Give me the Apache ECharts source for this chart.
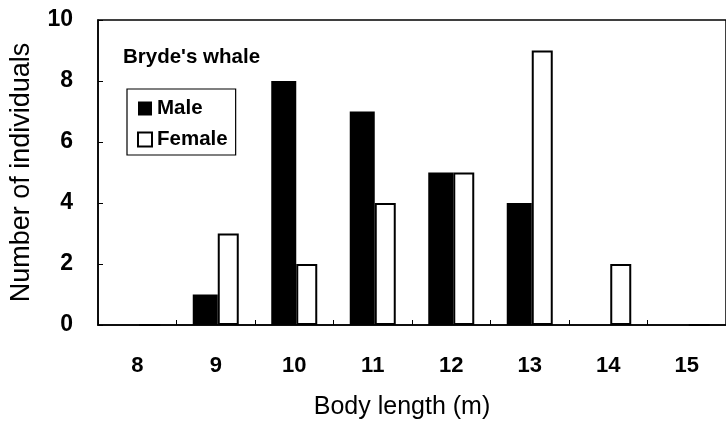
<!DOCTYPE html>
<html><head><meta charset="utf-8">
<script src="https://cdn.jsdelivr.net/npm/echarts@6/dist/echarts.min.js"></script>
<style>html,body{margin:0;padding:0;background:#fff}#c{width:726px;height:427px}</style>
</head><body><div id="c"></div>
<script>
const categories = ['8','9','10','11','12','13','14','15'];
const maleValues = [0,1,8,7,5,4,0,0];
const femaleValues = [0,3,2,4,5,9,2,0];
const yTicks = [0,2,4,6,8,10];

const FONT = '"Liberation Sans", Arial, sans-serif';
const chart = echarts.init(document.getElementById('c'), null, {renderer:'canvas'});
chart.setOption({
  animation:false,
  backgroundColor:'#fff',
  title:{text:"Bryde's whale", left:118, top:42,
    textStyle:{fontFamily:FONT, fontSize:20.5, fontWeight:'bold', color:'#000'}},
  legend:{
    orient:'vertical', left:127, top:89,
    data:['Male','Female'],
    borderColor:'#000', borderWidth:1.2, borderRadius:0,
    padding:[9,8,5,10], itemGap:10,
    itemWidth:14, itemHeight:14, icon:'rect',
    textStyle:{fontFamily:FONT, fontSize:20.5, fontWeight:'bold', color:'#000'}
  },
  grid:{left:97, top:20, width:644, height:305, show:true, borderColor:'#000', borderWidth:1.5, backgroundColor:'transparent'},
  xAxis:{type:'category', data:categories,
     axisLine:{show:true, lineStyle:{color:'#000', width:1.5}},
     axisTick:{show:true, inside:true, length:5, lineStyle:{color:'#000'}},
     axisLabel:{show:true, margin:30, fontFamily:FONT, fontSize:22, fontWeight:'bold', color:'#000'},
     name:'Body length (m)', nameLocation:'middle', nameGap:70,
     nameTextStyle:{fontFamily:FONT, fontSize:25, color:'#000', padding:[0,20,0,0]}},
  yAxis:{type:'value', min:0, max:10, interval:2,
     axisLine:{show:true, lineStyle:{color:'#000', width:1.5}},
     axisTick:{show:true, inside:true, length:5, lineStyle:{color:'#000'}},
     splitLine:{show:false},
     axisLabel:{margin:25, fontFamily:FONT, fontSize:23, fontWeight:'bold', color:'#000',
       formatter:v=> yTicks.includes(v)?String(v):''},
     name:'Number of individuals', nameLocation:'middle', nameGap:63,
     nameTextStyle:{fontFamily:FONT, fontSize:27, color:'#000'}},
  series:[
    {name:'Male', type:'bar', data:maleValues,
     barWidth:25, barGap:'0%',
     itemStyle:{color:'#000', borderColor:'#000', borderWidth:0}},
    {name:'Female', type:'bar', data:femaleValues,
     barWidth:21, barGap:'0%',
     itemStyle:{color:'#fff', borderColor:'#000', borderWidth:2}}
  ]
});
</script></body></html>
